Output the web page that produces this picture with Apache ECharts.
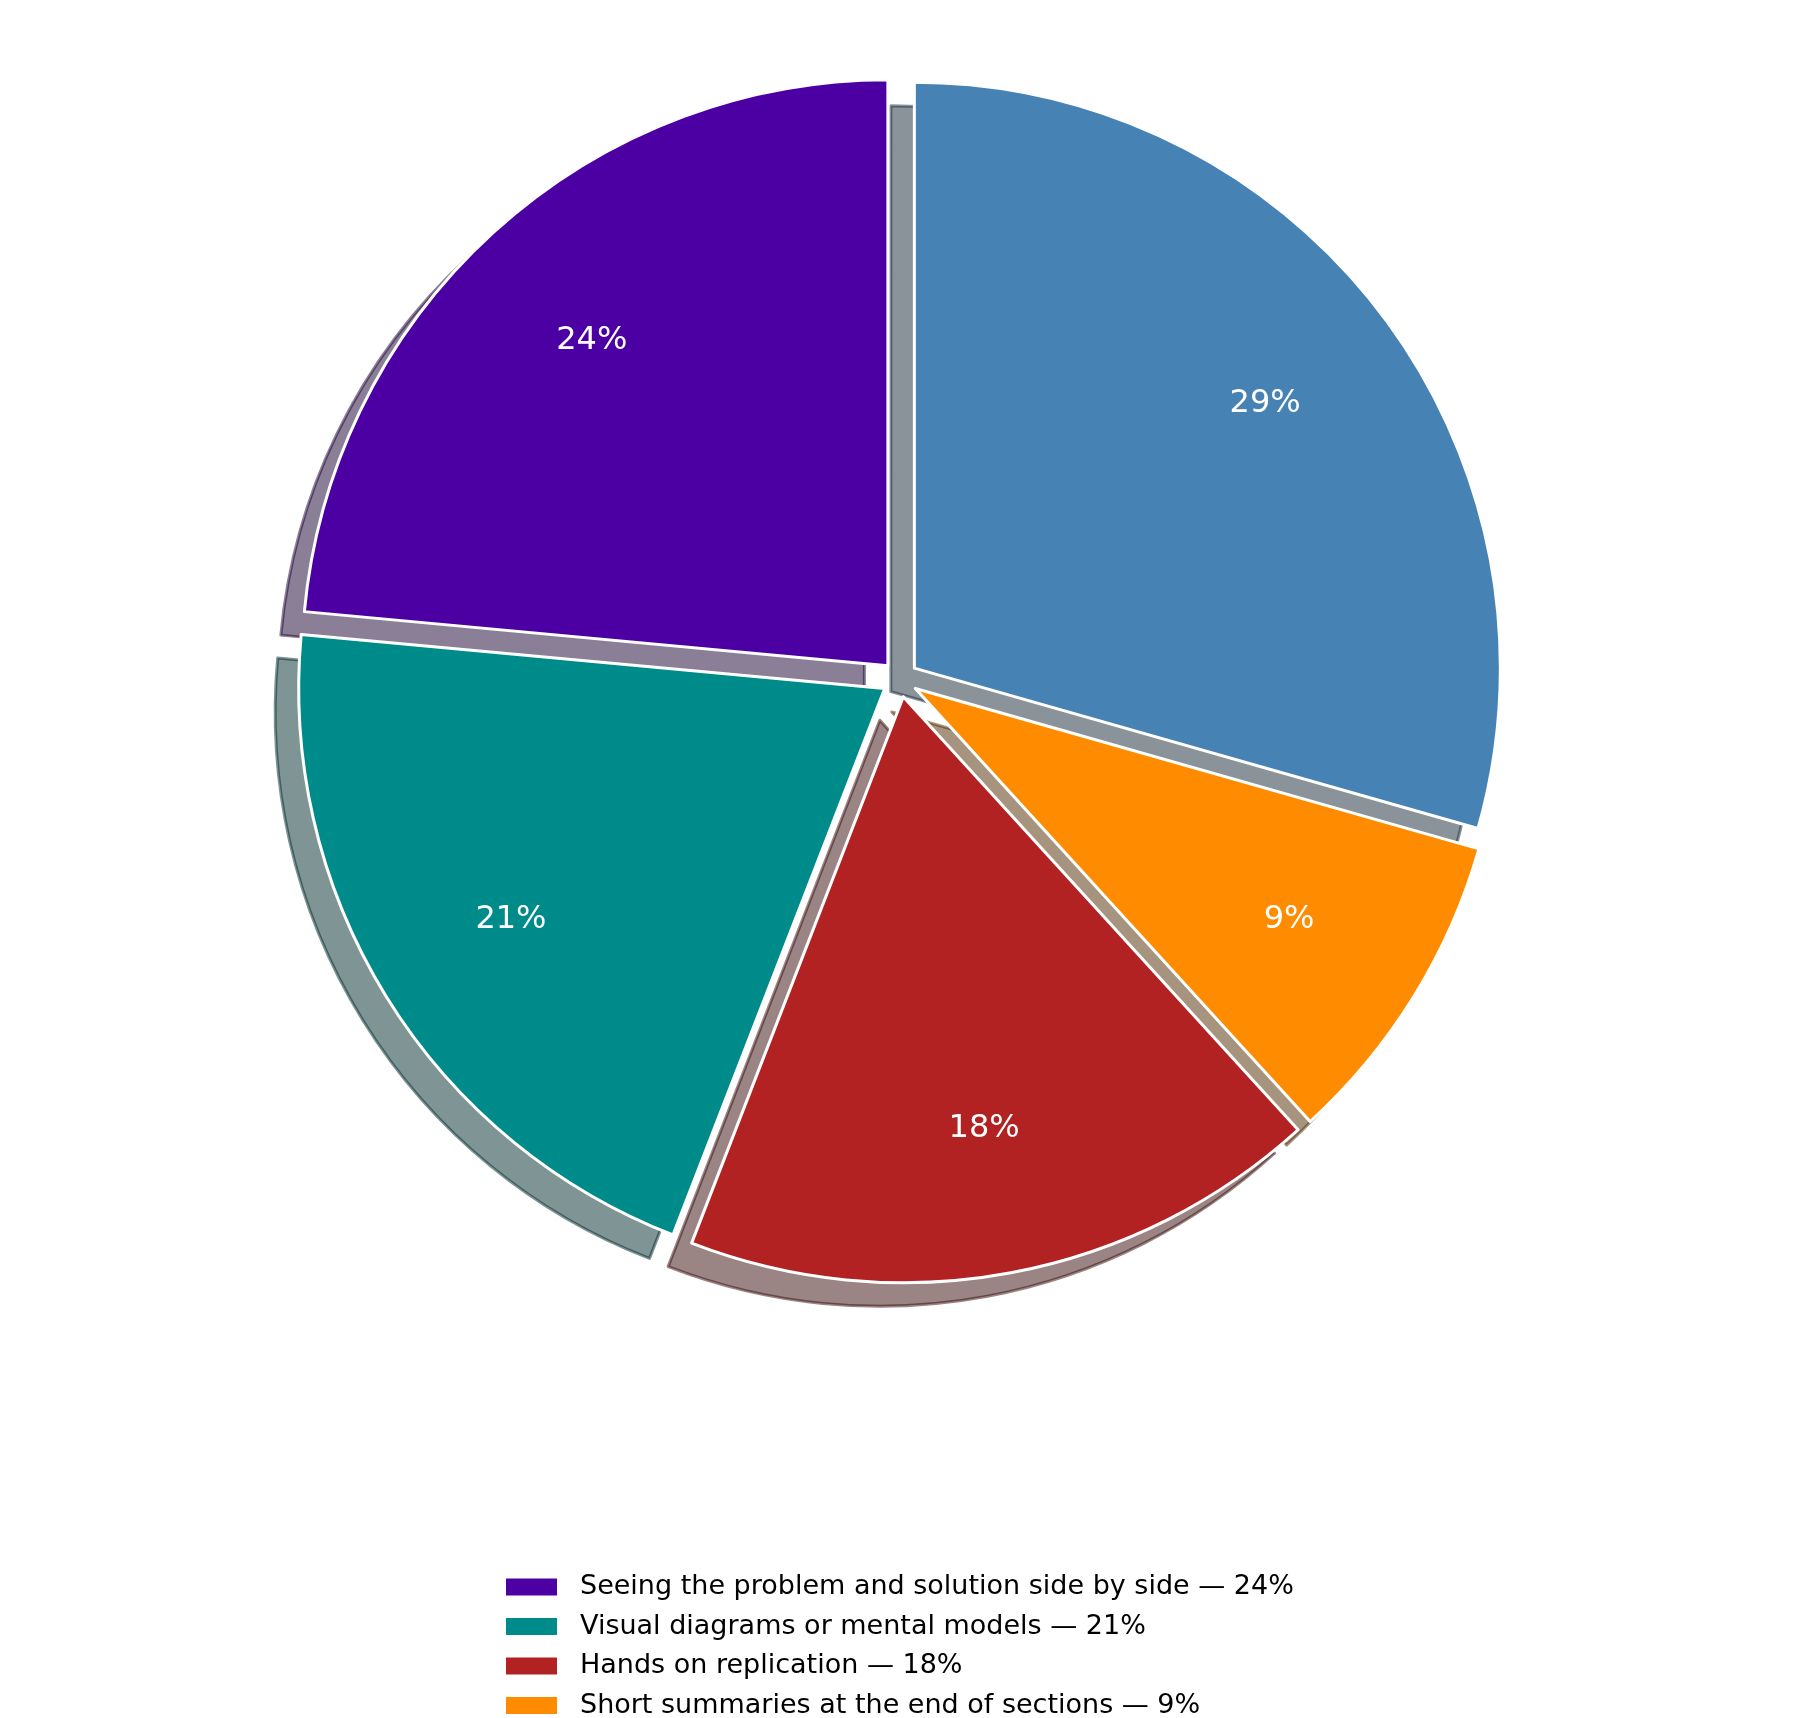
<!DOCTYPE html>
<html>
<head>
<meta charset="utf-8">
<script src="https://cdn.jsdelivr.net/npm/echarts@6/dist/echarts.min.js"></script>
<style>
  html, body { margin: 0; padding: 0; background: #fff; }
  #main { width: 1800px; height: 1718px; }
</style>
</head>
<body>
<div id="main"></div>
<script>
// slices in clockwise order starting at 12 o'clock
var categories = [
    'Worked examples',
    'Short summaries at the end of sections',
    'Hands on replication',
    'Visual diagrams or mental models',
    'Seeing the problem and solution side by side'
];
var values = [30, 9, 18, 21, 24];
var colors = ['#4682b4', '#ff8c00', '#b22222', '#008b8b', '#4c00a4'];
// legend lists these (the last entry is cut off by the canvas)
var legendNames = [
    'Seeing the problem and solution side by side',
    'Visual diagrams or mental models',
    'Hands on replication',
    'Short summaries at the end of sections'
];

var R = 586;
var cx = 900, cy = 679;
var explode = 18;
var shadowDx = -23.5, shadowDy = 23.5;

function shadowColor(hex) {
    var r = parseInt(hex.substr(1, 2), 16) * 0.3;
    var g = parseInt(hex.substr(3, 2), 16) * 0.3;
    var b = parseInt(hex.substr(5, 2), 16) * 0.3;
    return 'rgba(' + r.toFixed(0) + ',' + g.toFixed(0) + ',' + b.toFixed(0) + ',0.5)';
}

var mainData = [], labelData = [], shadowData = [];
for (var i = 0; i < categories.length; i++) {
    mainData.push({
        name: categories[i], value: values[i], selected: true,
        itemStyle: { color: colors[i] }
    });
    labelData.push({
        name: categories[i], value: values[i], selected: true
    });
    var sc = shadowColor(colors[i]);
    shadowData.push({
        name: categories[i], value: values[i], selected: true,
        itemStyle: { color: sc, borderColor: sc }
    });
}

var myChart = echarts.init(document.getElementById('main'));
myChart.setOption({
    backgroundColor: '#ffffff',
    animation: false,
    legend: {
        data: legendNames,
        orient: 'vertical',
        left: 501,
        top: 1567,
        height: 400,
        icon: 'rect',
        itemWidth: 51,
        itemHeight: 17,
        itemGap: 9.5,
        itemStyle: { borderWidth: 0 },
        formatter: function (name) {
            return name + ' \u2014 ' + values[categories.indexOf(name)] + '%';
        },
        textStyle: {
            fontFamily: 'DejaVu Sans',
            fontSize: 27,
            lineHeight: 30,
            color: '#000',
            padding: [0, 0, 0, 18]
        }
    },
    series: [{
        name: 'main',
        type: 'pie',
        z: 2,
        center: [cx, cy],
        radius: [0, R],
        startAngle: 90,
        clockwise: true,
        selectedMode: 'multiple',
        selectedOffset: explode,
        avoidLabelOverlap: false,
        label: { show: false },
        labelLine: { show: false },
        emphasis: { disabled: true },
        itemStyle: { borderColor: '#ffffff', borderWidth: 3 },
        data: mainData
    }, {
        name: 'labels',
        type: 'pie',
        z: 3,
        silent: true,
        center: [cx, cy],
        radius: [R * 0.49, R],
        startAngle: 90,
        clockwise: true,
        selectedMode: 'multiple',
        selectedOffset: explode,
        avoidLabelOverlap: false,
        itemStyle: { color: 'rgba(0,0,0,0)', borderWidth: 0 },
        emphasis: { disabled: true },
        label: {
            show: true,
            position: 'inside',
            color: '#ffffff',
            fontFamily: 'DejaVu Sans',
            fontSize: 32,
            formatter: function (p) { return Math.round(p.percent) + '%'; }
        },
        labelLine: { show: false },
        data: labelData
    }, {
        name: 'shadow',
        type: 'pie',
        z: 1,
        silent: true,
        center: [cx + shadowDx, cy + shadowDy],
        radius: [0, R],
        startAngle: 90,
        clockwise: true,
        selectedMode: 'multiple',
        selectedOffset: explode,
        avoidLabelOverlap: false,
        label: { show: false },
        labelLine: { show: false },
        emphasis: { disabled: true },
        itemStyle: { borderWidth: 3 },
        data: shadowData
    }]
});
</script>
</body>
</html>
